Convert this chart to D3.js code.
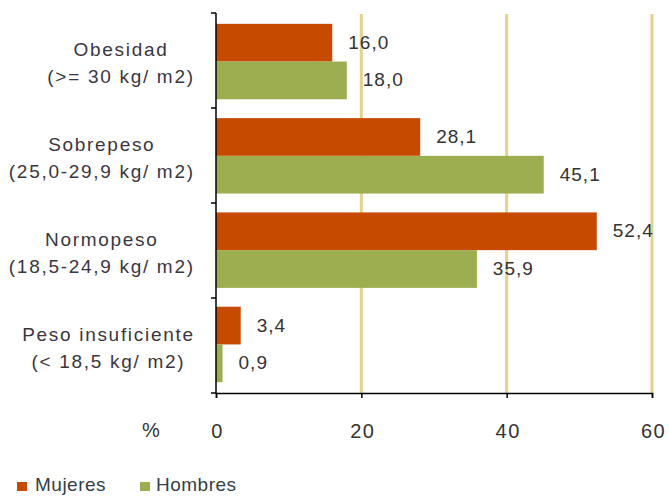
<!DOCTYPE html>
<html><head><meta charset="utf-8">
<script src="https://cdn.jsdelivr.net/npm/d3@7"></script>
<style>body{margin:0;background:#fff}svg{display:block;font-family:"Liberation Sans",Arial,sans-serif}</style>
</head><body><svg id="c" width="669" height="496"></svg>
<script>
const categories = ["Obesidad|(>= 30 kg/ m2)", "Sobrepeso|(25,0-29,9 kg/ m2)", "Normopeso|(18,5-24,9 kg/ m2)", "Peso insuficiente|(< 18,5 kg/ m2)"];
const mujeres = [16.0, 28.1, 52.4, 3.4];
const hombres = [18.0, 45.1, 35.9, 0.9];
const xTicks = [0, 20, 40, 60];
const seriesNames = ["Mujeres", "Hombres"];
const colors = ["#c64a00", "#9cae4f"];

const svg = d3.select("#c");
const m = {l:216, r:652, t:13, b:393};
const x = d3.scaleLinear().domain([0,60]).range([m.l, m.r]);
const y = d3.scaleBand().domain(categories).range([m.t, m.b]).paddingInner(0.2).paddingOuter(0.115);
const y0 = d3.scaleBand().domain(categories).range([m.t, m.b]);

// grid
svg.append("g").selectAll("line").data(xTicks.filter(d=>d>0)).join("line")
  .attr("x1", d=>x(d)).attr("x2", d=>x(d)).attr("y1", m.t+1).attr("y2", m.b)
  .attr("stroke", "#e5d190").attr("stroke-width", 3);

const fmt = v => v.toFixed(1).replace(".", ",");
const series = [mujeres, hombres];
series.forEach((vals, si) => {
  const g = svg.append("g");
  g.selectAll("rect").data(categories).join("rect")
    .attr("x", x(0)).attr("y", (d)=>y(d) + si*y.bandwidth()/2)
    .attr("width", (d,i)=>x(vals[i]) - x(0)).attr("height", y.bandwidth()/2)
    .attr("fill", colors[si]);
  g.selectAll("text").data(categories).join("text")
    .attr("x", (d,i)=>x(vals[i]) + 16).attr("y", (d)=>y(d) + si*y.bandwidth()/2 + y.bandwidth()/4 + 6)
    .attr("font-size", 19).attr("fill", "#333").attr("letter-spacing", 1)
    .text((d,i)=>fmt(vals[i]));
});

// y axis
const ya = svg.append("g").attr("transform", `translate(${m.l},0)`);
ya.append("line").attr("x1",0).attr("x2",0).attr("y1",m.t).attr("y2",m.b).attr("stroke","#000").attr("stroke-width",1.5);
const bounds = categories.map(c=>y0(c)).concat([m.b]);
ya.selectAll(".tk").data(bounds).join("line").attr("x1",-5).attr("x2",0).attr("y1",d=>d).attr("y2",d=>d).attr("stroke","#000").attr("stroke-width",1.5);

// category labels: lines centered within a block right-aligned at x=193
categories.forEach(c => {
  const parts = c.split("|");
  const cy = y0(c) + y0.bandwidth()/2;
  const t = svg.append("text").attr("text-anchor","middle").attr("font-size",19).attr("fill","#3a3640").attr("letter-spacing",1.7);
  const spans = parts.map((p,k)=>t.append("tspan").attr("y", cy + (k===0 ? -4.5 : 22)).text(p));
  const maxW = d3.max(spans, s=>s.node().getComputedTextLength()) - 1.7;
  spans.forEach(s=>s.attr("x", 193 - maxW/2 + 0.85));
});

// x axis
const xa = svg.append("g").attr("transform", `translate(0,${m.b})`)
  .call(d3.axisBottom(x).tickValues(xTicks).tickSize(5).tickPadding(27).tickFormat(d3.format("d")));
xa.select(".domain").attr("stroke","#000").attr("stroke-width",1.5);
xa.selectAll(".tick line").attr("stroke","#000").attr("stroke-width",1.5);
xa.selectAll(".tick text").attr("font-size",20).attr("fill","#333").attr("dy",0).attr("dx",1).attr("letter-spacing",1.5)
  .attr("font-family","'Liberation Sans',Arial,sans-serif");
xa.selectAll(".tick text").attr("y", 45);
svg.append("text").attr("x",151).attr("y",437).attr("text-anchor","middle").attr("font-size",20).attr("fill","#333").text("%");

// legend
const lg = svg.append("g");
const lx = [17, 140];
const tx = [35, 156];
seriesNames.forEach((n,i)=>{
  lg.append("rect").attr("x",lx[i]).attr("y",482).attr("width",10).attr("height",9).attr("fill",colors[i]);
  lg.append("text").attr("x",tx[i]).attr("y",491).attr("font-size",19).attr("fill","#33404a").attr("letter-spacing",0.5).text(n);
});
</script></body></html>
